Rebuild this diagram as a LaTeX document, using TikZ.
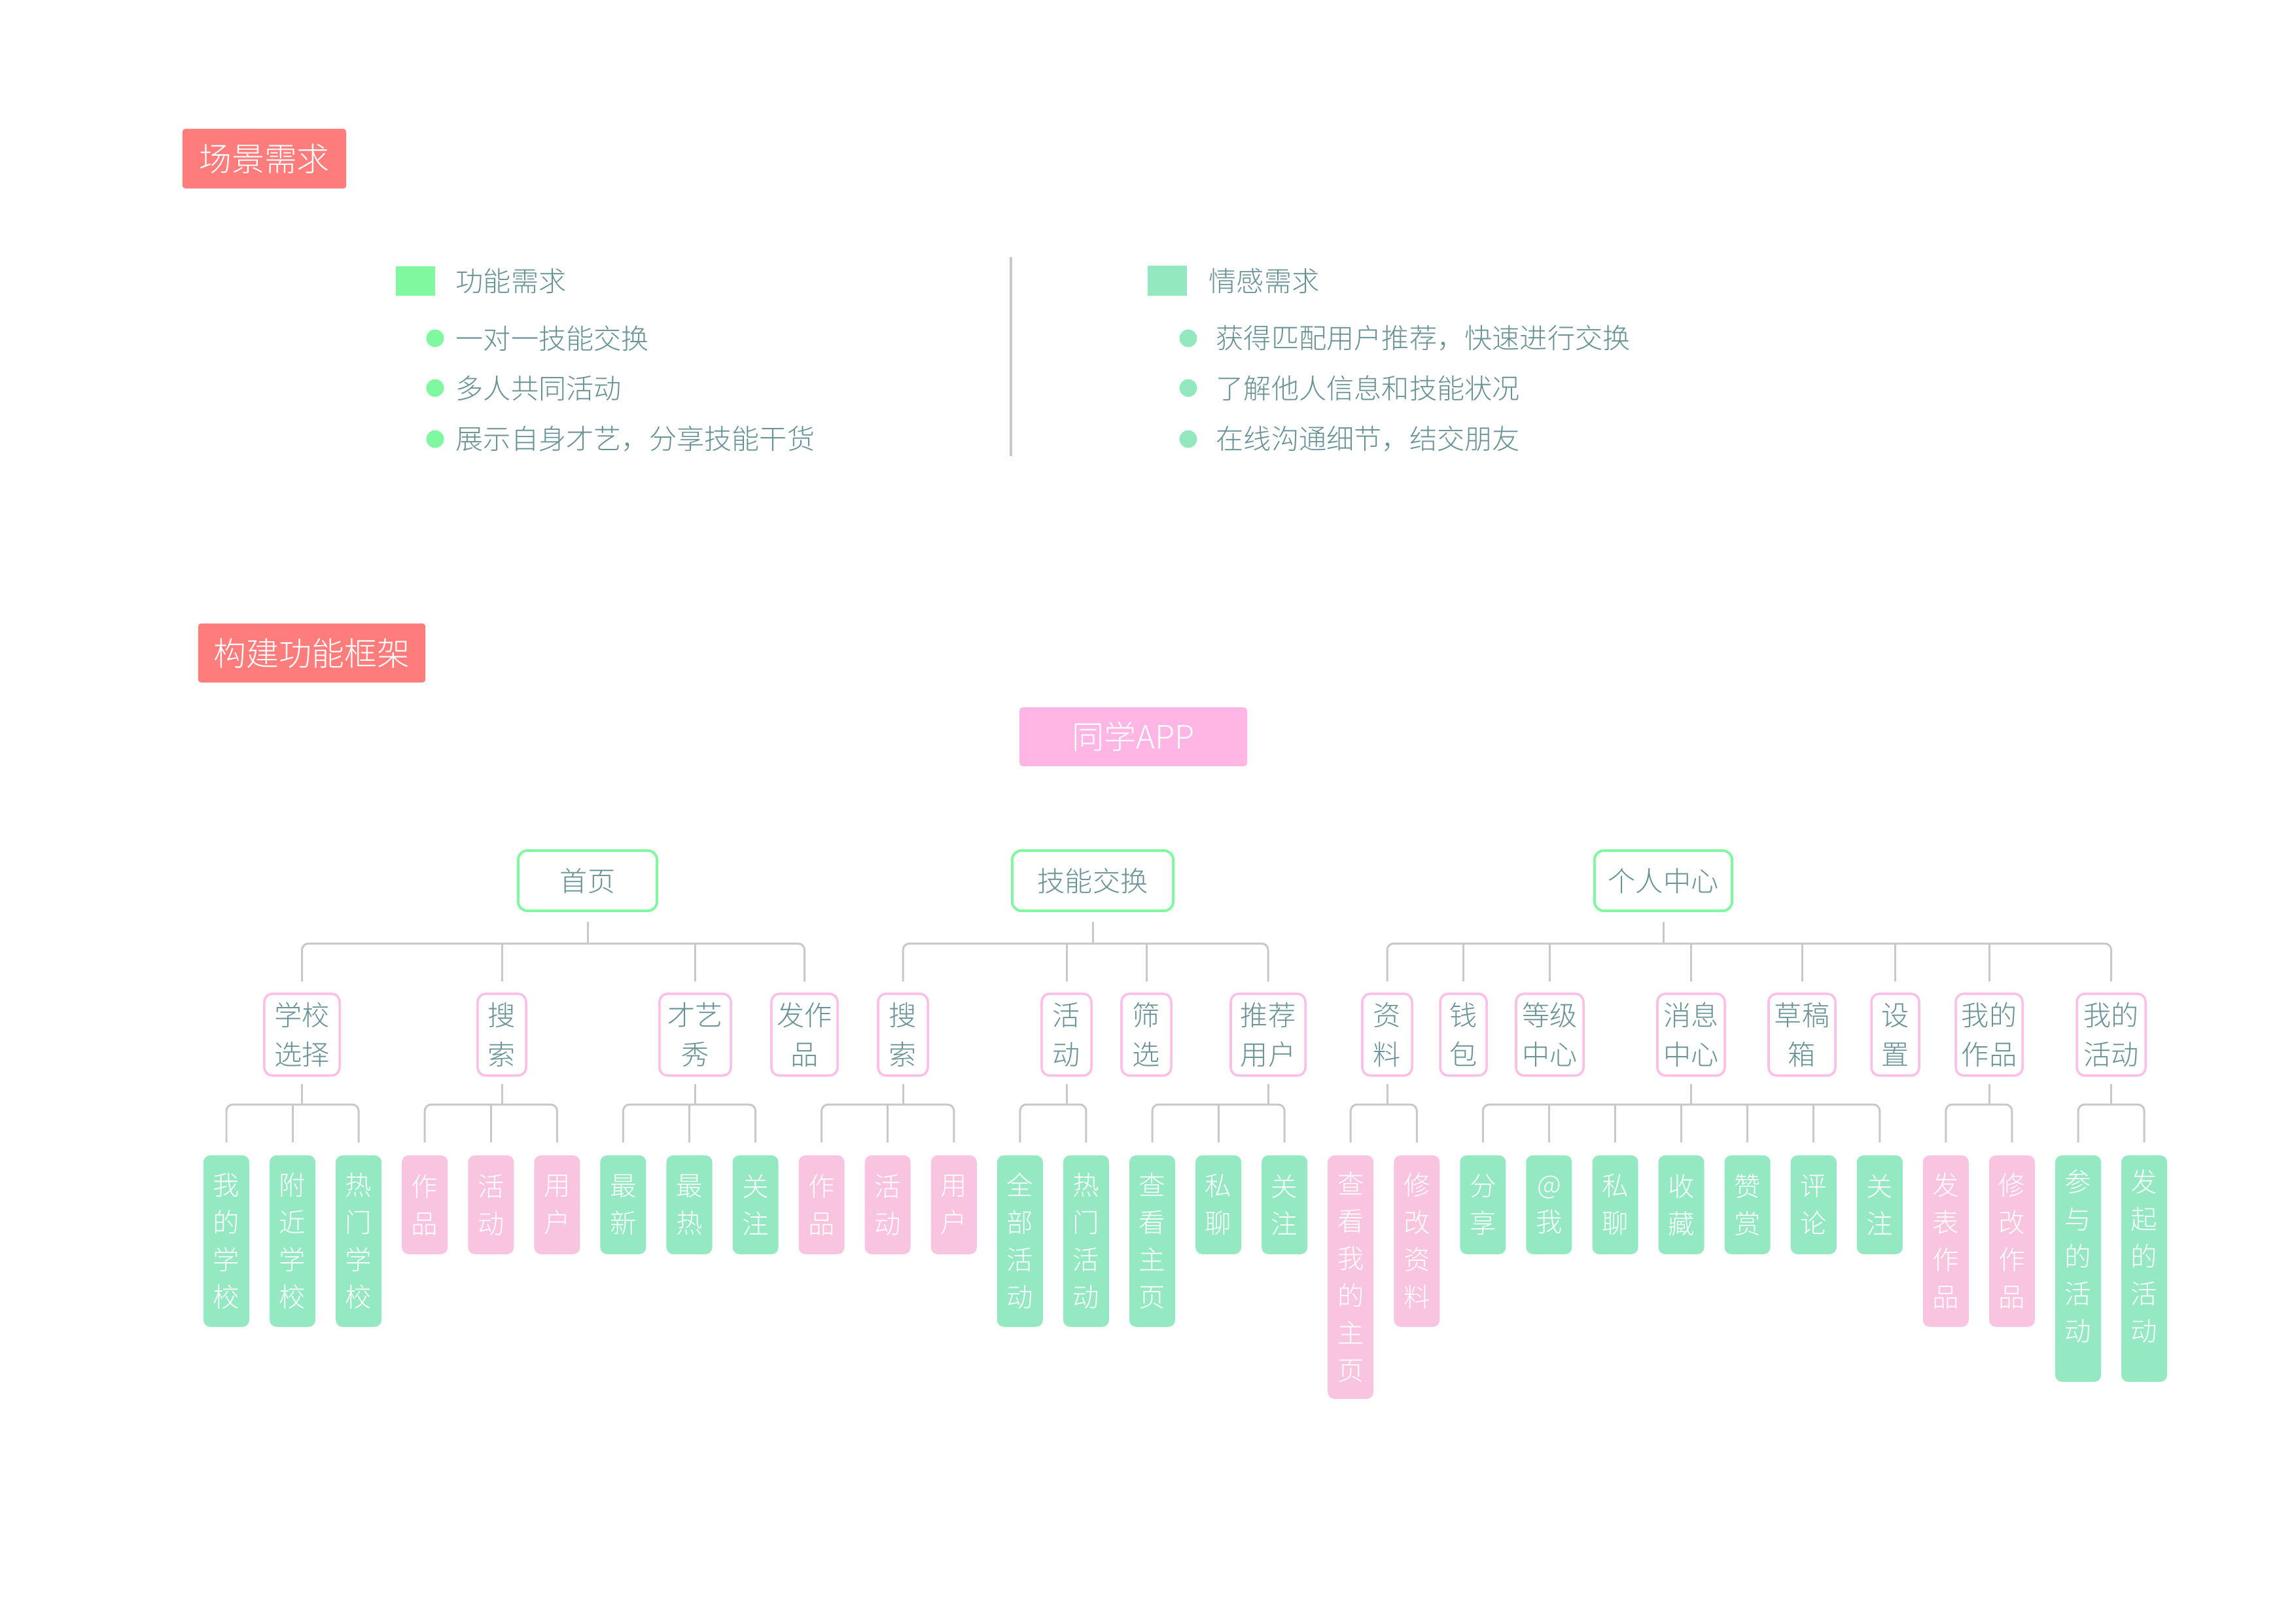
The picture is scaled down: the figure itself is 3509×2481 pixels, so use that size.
\documentclass[tikz,border=0pt]{standalone}
\usepackage{fontspec}
\setmainfont{Noto Sans CJK SC Light}
\usetikzlibrary{calc}
\definecolor{salmon}{RGB}{255,124,124}
\definecolor{apppink}{RGB}{255,182,228}
\definecolor{lgreen}{RGB}{128,248,160}
\definecolor{mint}{RGB}{148,232,192}
\definecolor{lpink}{RGB}{255,190,232}
\definecolor{leafg}{RGB}{148,232,194}
\definecolor{leafp}{RGB}{248,196,224}
\definecolor{tealgray}{RGB}{104,146,150}
\definecolor{lineg}{RGB}{200,200,200}
\newcommand\mystem[3]{\draw[conn] (#1.south) ++(0,#3) -- (#1.south |- #2);}
\newcommand\mybrk[4]{\draw[conn] (#1.north |- #4) -- (#1.north |- #3) -- (#2.north |- #3) -- (#2.north |- #4);}
\newcommand\mydrop[3]{\draw[conn] (#1.north |- #2) -- (#1.north |- #3);}
\begin{document}
\begin{tikzpicture}[x=0.01cm,y=-0.01cm,
  conn/.style={draw=lineg, line width=0.85pt, rounded corners=2.8pt},
  hdr/.style={fill=salmon, text=white, font=\fontsize{14.2}{17}\selectfont, inner sep=0, rounded corners=1.2pt},
  txt/.style={text=tealgray, font=\fontsize{12}{14}\selectfont, inner sep=0},
  dot/.style={circle, minimum size=0.27cm, inner sep=0},
  lvA/.style={draw=lgreen, line width=1.1pt, fill=white, rounded corners=4pt, text=tealgray, font=\fontsize{12}{14}\selectfont, inner sep=0, minimum height=0.92cm},
  lvB/.style={draw=lpink, line width=1pt, fill=white, rounded corners=3.5pt, text=tealgray, font=\fontsize{12}{17.07}\selectfont, align=center, inner sep=0, minimum height=1.25cm, anchor=north},
  leaf/.style={rounded corners=3pt, text=white, font=\fontsize{11.5}{16.2}\selectfont, align=center, inner sep=0, minimum width=0.7cm, anchor=north},
  lg/.style={leaf, fill=leafg},
  lp/.style={leaf, fill=leafp}]
\path[fill=white] (0,0) rectangle (3509,2481);

% ---------- section 1 ----------
\node[hdr, minimum width=2.5cm, minimum height=0.91cm] (h1) at (404,242.5) {场景需求};

\node[fill=lgreen, minimum width=0.6cm, minimum height=0.45cm, inner sep=0] (sq1) at (635,429.5) {};
\node[txt, anchor=west] (l1) at (696,429) {功能需求};
\node[dot, fill=lgreen] (b1) at (665,517) {};
\node[txt, anchor=west] (t1) at (696,517) {一对一技能交换};
\node[dot, fill=lgreen] (b2) at (665,593) {};
\node[txt, anchor=west] (t2) at (696,593) {多人共同活动};
\node[dot, fill=lgreen] (b3) at (665,671) {};
\node[txt, anchor=west] (t3) at (696,671) {展示自身才艺，分享技能干货};

\coordinate (d1) at (1545,393);
\coordinate (d2) at (1545,697);
\draw[draw=lineg, line width=1.1pt] (d1) -- (d2);

\node[fill=mint, minimum width=0.6cm, minimum height=0.45cm, inner sep=0] (sq2) at (1784,429) {};
\node[txt, anchor=west] (l2) at (1847,429) {情感需求};
\node[dot, fill=mint] (c1) at (1816,517) {};
\node[txt, anchor=west] (u1) at (1858,517) {获得匹配用户推荐，快速进行交换};
\node[dot, fill=mint] (c2) at (1816,593) {};
\node[txt, anchor=west] (u2) at (1858,593) {了解他人信息和技能状况};
\node[dot, fill=mint] (c3) at (1816,671) {};
\node[txt, anchor=west] (u3) at (1858,671) {在线沟通细节，结交朋友};

% ---------- section 2 ----------
\node[hdr, minimum width=3.47cm, minimum height=0.9cm] (h2) at (476.5,998) {构建功能框架};
\node[fill=apppink, text=white, font=\fontsize{14}{17}\selectfont, inner sep=0, minimum width=3.48cm, minimum height=0.9cm, rounded corners=1.5pt] (app) at (1732,1126) {同学APP};

% level 1
\node[lvA, minimum width=2.12cm] (home) at (898,1346) {首页};
\node[lvA, minimum width=2.46cm] (skill) at (1670,1346) {技能交换};
\node[lvA, minimum width=2.10cm] (me) at (2542,1346) {个人中心};

% level 2
\node[lvB, minimum width=1.15cm] (school) at (461.5,1517) {学校\\选择};
\node[lvB, minimum width=0.74cm] (search1) at (767,1517) {搜\\索};
\node[lvB, minimum width=1.09cm] (talent) at (1062.5,1517) {才艺\\秀};
\node[lvB, minimum width=1.01cm] (post) at (1229.5,1517) {发作\\品};
\node[lvB, minimum width=0.76cm] (search2) at (1380,1517) {搜\\索};
\node[lvB, minimum width=0.76cm] (act) at (1630,1517) {活\\动};
\node[lvB, minimum width=0.76cm] (filter) at (1752,1517) {筛\\选};
\node[lvB, minimum width=1.14cm] (rec) at (1938,1517) {推荐\\用户};
\node[lvB, minimum width=0.76cm] (info) at (2120,1517) {资\\料};
\node[lvB, minimum width=0.71cm] (wallet) at (2236.5,1517) {钱\\包};
\node[lvB, minimum width=1.03cm] (level) at (2368.5,1517) {等级\\中心};
\node[lvB, minimum width=1.03cm] (msg) at (2584.5,1517) {消息\\中心};
\node[lvB, minimum width=1.02cm] (draft) at (2754,1517) {草稿\\箱};
\node[lvB, minimum width=0.73cm] (setting) at (2896.5,1517) {设\\置};
\node[lvB, minimum width=1.02cm] (mywork) at (3040,1517) {我的\\作品};
\node[lvB, minimum width=1.05cm] (myact) at (3226.5,1517) {我的\\活动};

% level 3 (leaves)
\node[lg, minimum height=2.62cm] (L0) at (346.0,1765) {我\\的\\学\\校};
\node[lg, minimum height=2.62cm] (L1) at (447.1,1765) {附\\近\\学\\校};
\node[lg, minimum height=2.62cm] (L2) at (548.1,1765) {热\\门\\学\\校};
\node[lp, minimum height=1.51cm] (L3) at (649.2,1765) {作\\品};
\node[lp, minimum height=1.51cm] (L4) at (750.3,1765) {活\\动};
\node[lp, minimum height=1.51cm] (L5) at (851.4,1765) {用\\户};
\node[lg, minimum height=1.51cm] (L6) at (952.4,1765) {最\\新};
\node[lg, minimum height=1.51cm] (L7) at (1053.5,1765) {最\\热};
\node[lg, minimum height=1.51cm] (L8) at (1154.6,1765) {关\\注};
\node[lp, minimum height=1.51cm] (L9) at (1255.6,1765) {作\\品};
\node[lp, minimum height=1.51cm] (L10) at (1356.7,1765) {活\\动};
\node[lp, minimum height=1.51cm] (L11) at (1457.8,1765) {用\\户};
\node[lg, minimum height=2.62cm] (L12) at (1558.8,1765) {全\\部\\活\\动};
\node[lg, minimum height=2.62cm] (L13) at (1659.9,1765) {热\\门\\活\\动};
\node[lg, minimum height=2.62cm] (L14) at (1761.0,1765) {查\\看\\主\\页};
\node[lg, minimum height=1.51cm] (L15) at (1862.1,1765) {私\\聊};
\node[lg, minimum height=1.51cm] (L16) at (1963.1,1765) {关\\注};
\node[lp, minimum height=3.72cm] (L17) at (2064.2,1765) {查\\看\\我\\的\\主\\页};
\node[lp, minimum height=2.62cm] (L18) at (2165.3,1765) {修\\改\\资\\料};
\node[lg, minimum height=1.51cm] (L19) at (2266.3,1765) {分\\享};
\node[lg, minimum height=1.51cm] (L20) at (2367.4,1765) {@\\我};
\node[lg, minimum height=1.51cm] (L21) at (2468.5,1765) {私\\聊};
\node[lg, minimum height=1.51cm] (L22) at (2569.5,1765) {收\\藏};
\node[lg, minimum height=1.51cm] (L23) at (2670.6,1765) {赞\\赏};
\node[lg, minimum height=1.51cm] (L24) at (2771.7,1765) {评\\论};
\node[lg, minimum height=1.51cm] (L25) at (2872.8,1765) {关\\注};
\node[lp, minimum height=2.62cm] (L26) at (2973.8,1765) {发\\表\\作\\品};
\node[lp, minimum height=2.62cm] (L27) at (3074.9,1765) {修\\改\\作\\品};
\node[lg, minimum height=3.46cm] (L28) at (3176.0,1765) {参\\与\\的\\活\\动\rule[-11.4pt]{0pt}{11.4pt}};
\node[lg, minimum height=3.46cm] (L29) at (3277.0,1765) {发\\起\\的\\活\\动\rule[-11.4pt]{0pt}{11.4pt}};

% ---------- connectors ----------
\coordinate (barA) at (0,1442);
\coordinate (endA) at (0,1500);
\coordinate (barB) at (0,1688);
\coordinate (endB) at (0,1746);

% level 1 -> 2
\mystem{home}{barA}{15}
\mybrk{school}{post}{barA}{endA}
\mydrop{search1}{barA}{endA}
\mydrop{talent}{barA}{endA}

\mystem{skill}{barA}{15}
\mybrk{search2}{rec}{barA}{endA}
\mydrop{act}{barA}{endA}
\mydrop{filter}{barA}{endA}

\mystem{me}{barA}{15}
\mybrk{info}{myact}{barA}{endA}
\mydrop{wallet}{barA}{endA}
\mydrop{level}{barA}{endA}
\mydrop{msg}{barA}{endA}
\mydrop{draft}{barA}{endA}
\mydrop{setting}{barA}{endA}
\mydrop{mywork}{barA}{endA}

% level 2 -> 3
\mystem{school}{barB}{11}
\mybrk{L0}{L2}{barB}{endB}
\mydrop{L1}{barB}{endB}

\mystem{search1}{barB}{11}
\mybrk{L3}{L5}{barB}{endB}
\mydrop{L4}{barB}{endB}

\mystem{talent}{barB}{11}
\mybrk{L6}{L8}{barB}{endB}
\mydrop{L7}{barB}{endB}

\mystem{search2}{barB}{11}
\mybrk{L9}{L11}{barB}{endB}
\mydrop{L10}{barB}{endB}

\mystem{act}{barB}{11}
\mybrk{L12}{L13}{barB}{endB}

\mystem{rec}{barB}{11}
\mybrk{L14}{L16}{barB}{endB}
\mydrop{L15}{barB}{endB}

\mystem{info}{barB}{11}
\mybrk{L17}{L18}{barB}{endB}

\mystem{msg}{barB}{11}
\mybrk{L19}{L25}{barB}{endB}
\mydrop{L20}{barB}{endB}
\mydrop{L21}{barB}{endB}
\mydrop{L22}{barB}{endB}
\mydrop{L23}{barB}{endB}
\mydrop{L24}{barB}{endB}

\mystem{mywork}{barB}{11}
\mybrk{L26}{L27}{barB}{endB}

\mystem{myact}{barB}{11}
\mybrk{L28}{L29}{barB}{endB}
\end{tikzpicture}
\end{document}
